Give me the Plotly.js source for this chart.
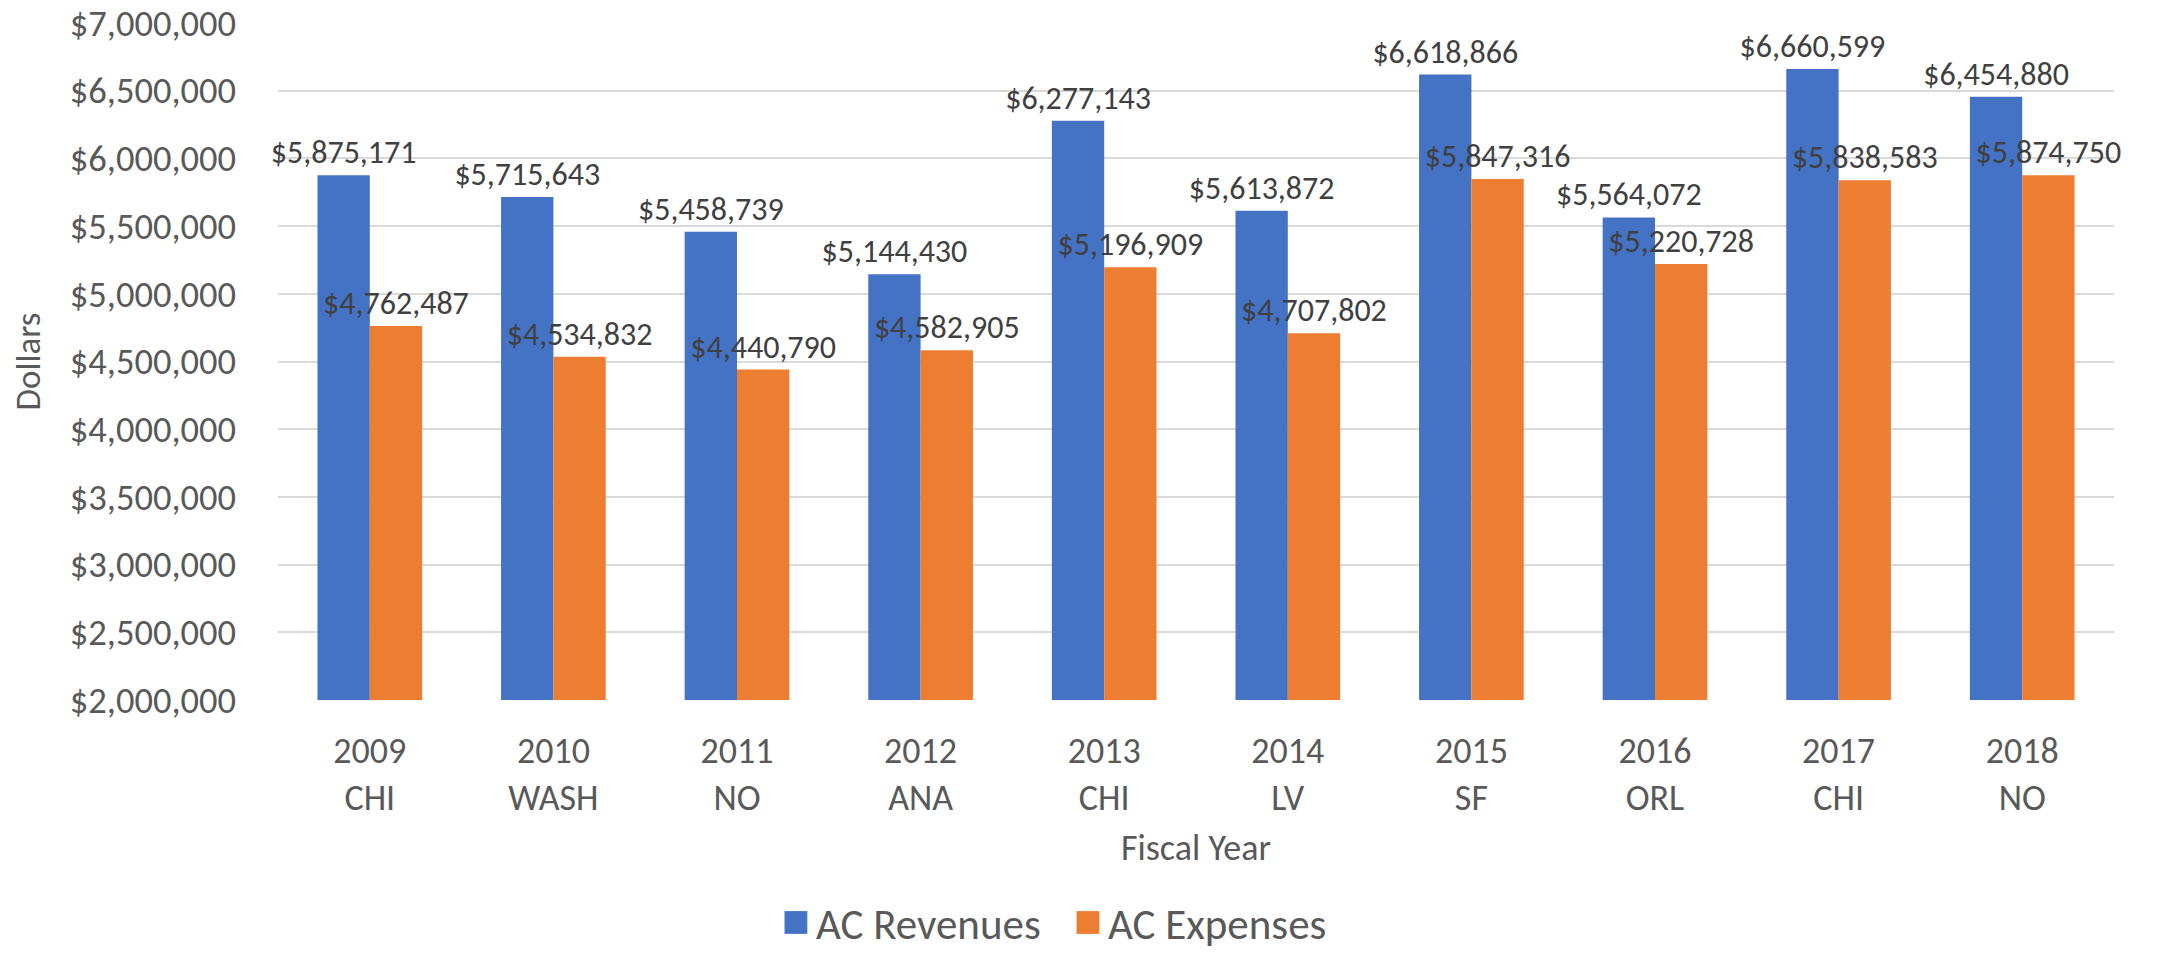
<!DOCTYPE html>
<html>
<head>
<meta charset="utf-8">
<script src="https://cdn.plot.ly/plotly-3.0.1.min.js"></script>
<style>html,body{margin:0;padding:0;background:#fff;}#chart{width:2164px;height:956px;}</style>
</head>
<body>
<div id="chart"></div>
<script>
const years = ["2009", "2010", "2011", "2012", "2013", "2014", "2015", "2016", "2017", "2018"];
const cities = ["CHI", "WASH", "NO", "ANA", "CHI", "LV", "SF", "ORL", "CHI", "NO"];
const revenues = [5875171, 5715643, 5458739, 5144430, 6277143, 5613872, 6618866, 5564072, 6660599, 6454880];
const expenses = [4762487, 4534832, 4440790, 4582905, 5196909, 4707802, 5847316, 5220728, 5838583, 5874750];
const yTicks = [2000000, 2500000, 3000000, 3500000, 4000000, 4500000, 5000000, 5500000, 6000000, 6500000, 7000000];

const cats = years.map((y, i) => y + "<br>" + cities[i]);
const FONT = "Carlito, Calibri, Lato, sans-serif";
const GREY = "#595959";

const labelFont = {family: FONT, size: 32, color: "#404040"};
const common = {
  type: "bar",
  x: cats,
  texttemplate: "%{y:$,}",
  textposition: "outside",
  textangle: 0,
  constraintext: "none",
  cliponaxis: false,
  textfont: labelFont,
  outsidetextfont: labelFont,
  hoverinfo: "skip"
};

const data = [
  Object.assign({}, common, {name: "AC Revenues", y: revenues, marker: {color: "#4472C4"}}),
  Object.assign({}, common, {name: "AC Expenses", y: expenses, marker: {color: "#ED7D31"}})
];

const layout = {
  width: 2164,
  height: 956,
  paper_bgcolor: "#ffffff",
  plot_bgcolor: "#ffffff",
  margin: {l: 278, r: 50, t: 23, b: 256, pad: 0},
  barmode: "group",
  bargap: 0.43,
  bargroupgap: 0,
  showlegend: true,
  font: {family: FONT, color: GREY},
  xaxis: {
    type: "category",
    tickfont: {family: FONT, size: 36, color: GREY},
    showgrid: false,
    showline: false,
    ticks: "",
    zeroline: false,
    ticklabelstandoff: 26,
    title: {text: "Fiscal Year", font: {family: FONT, size: 36, color: GREY}, standoff: 16}
  },
  yaxis: {
    range: [2000000, 7000000],
    tickvals: yTicks,
    tickformat: "$,",
    tickfont: {family: FONT, size: 36.5, color: GREY},
    showgrid: true,
    gridcolor: "#d9d9d9",
    gridwidth: 2,
    zeroline: false,
    showline: false,
    ticks: "",
    ticklabelstandoff: 41,
    title: {text: "Dollars", font: {family: FONT, size: 35, color: GREY}, standoff: 18}
  },
  legend: {
    orientation: "h",
    xref: "container",
    yref: "container",
    x: 0.4935,
    xanchor: "center",
    y: 0.035,
    yanchor: "middle",
    entrywidth: 247,
    entrywidthmode: "pixels",
    font: {family: FONT, size: 43, color: GREY},
    itemsizing: "constant"
  }
};

Plotly.newPlot("chart", data, layout, {displayModeBar: false, staticPlot: true}).then(() => {
  document.querySelectorAll("#chart .legendpoints path").forEach(p => {
    const t = p.getAttribute("transform") || "";
    p.setAttribute("transform", t + " scale(1.9)");
  });
});
</script>
</body>
</html>
